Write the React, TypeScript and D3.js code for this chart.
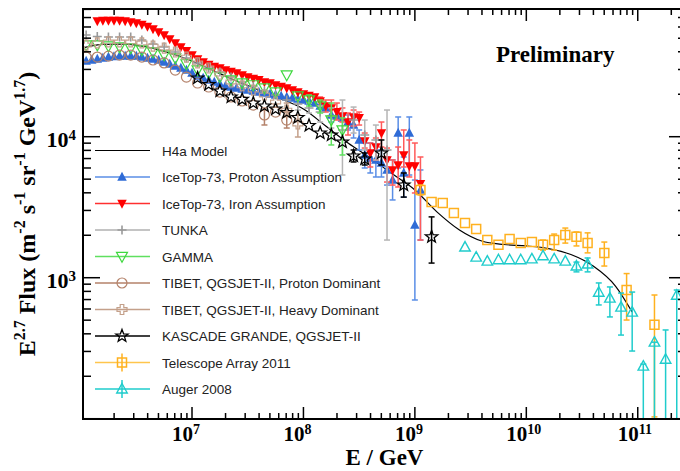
import React from "react";
import * as d3 from "d3";

// ---------------- data (log10(E/GeV), E^2.7 flux) ----------------
const h4aLgE = [6.02, 6.2, 6.4, 6.6, 6.8, 7.0, 7.2, 7.4, 7.6, 7.8, 8.0, 8.2, 8.4, 8.6, 8.8, 9.0, 9.2, 9.4, 9.6, 9.8, 10.0, 10.2, 10.4, 10.6, 10.8, 10.95];
const h4aFlux = [42550, 45100, 45420, 43240, 39260, 34440, 29240, 24830, 21420, 18500, 15710, 11910, 9020, 7060, 5430, 4190, 2920, 2180, 1820, 1720, 1680, 1610, 1460, 1210, 873, 571];

const protonLgE = [6.05, 6.1, 6.15, 6.2, 6.25, 6.3, 6.35, 6.4, 6.45, 6.5, 6.55, 6.6, 6.65, 6.7, 6.75, 6.8, 6.85, 6.9, 6.95, 7.0, 7.05, 7.1, 7.15, 7.2, 7.25, 7.3, 7.35, 7.4, 7.45, 7.5, 7.55, 7.6, 7.65, 7.7, 7.75, 7.8, 7.85, 7.9, 7.95, 8.0, 8.05, 8.1, 8.15, 8.2, 8.25, 8.3, 8.35, 8.4, 8.45, 8.5, 8.55, 8.6, 8.65, 8.7, 8.75, 8.8, 8.85, 8.9, 8.95, 9.0, 9.05];
const protonFlux = [34440, 35000, 35560, 36130, 36710, 37010, 37300, 37300, 37300, 37300, 36710, 36130, 35560, 35000, 33900, 32820, 31730, 30700, 29700, 28310, 26930, 26070, 25250, 24440, 23660, 22900, 22510, 22140, 21780, 21420, 21090, 20740, 20410, 20080, 19760, 19440, 19130, 18800, 18500, 18210, 17920, 17340, 16510, 15990, 14260, 14030, 13580, 12710, 12110, 9480, 7420, 7060, 6840, 6510, 5810, 4930, 10620, 5530, 10620, 2370, 4190];
const protonErrLgE = [8.25, 8.4, 8.45, 8.5, 8.55, 8.6, 8.65, 8.7, 8.75, 8.8, 8.85, 8.9, 8.95, 9.0, 9.05];
const protonErrHi = [15990, 14260, 14260, 11160, 9020, 9020, 8050, 8050, 7180, 6840, 13800, 7180, 13800, 4930, 5810];
const protonErrLo = [12710, 11160, 9790, 8050, 6000, 5530, 5180, 5180, 4540, 3560, 6000, 3730, 5350, 695, 1850];

const ironLgE = [6.15, 6.2, 6.25, 6.3, 6.35, 6.4, 6.45, 6.5, 6.55, 6.6, 6.65, 6.7, 6.75, 6.8, 6.85, 6.9, 6.95, 7.0, 7.05, 7.1, 7.15, 7.2, 7.25, 7.3, 7.35, 7.4, 7.45, 7.5, 7.55, 7.6, 7.65, 7.7, 7.75, 7.8, 7.85, 7.9, 7.95, 8.0, 8.05, 8.1, 8.15, 8.2, 8.25, 8.3, 8.35, 8.4, 8.45, 8.5, 8.55, 8.6, 8.65, 8.7, 8.75, 8.8, 8.85, 8.9, 8.95, 9.0, 9.05];
const ironFlux = [66200, 66600, 66700, 66700, 66600, 66200, 65000, 63900, 62500, 60500, 58100, 55300, 52600, 49300, 46200, 43300, 40600, 37900, 35600, 33900, 32500, 31500, 30700, 29700, 29000, 28300, 27400, 26500, 25900, 25300, 24400, 24000, 23300, 22700, 22100, 21400, 20700, 20100, 19600, 19100, 17900, 16500, 16000, 15000, 14000, 12700, 13800, 13600, 9330, 7660, 8450, 10600, 6840, 5810, 6300, 7420, 6200, 6200, 4630];
const ironErrLgE = [8.15, 8.2, 8.25, 8.3, 8.35, 8.4, 8.45, 8.5, 8.55, 8.6, 8.65, 8.7, 8.75, 8.8, 8.85, 8.9, 8.95, 9.0, 9.05];
const ironErrHi = [19130, 18210, 18210, 17330, 15990, 14720, 15460, 14960, 10620, 9020, 9790, 12710, 8310, 6840, 8450, 11160, 9480, 9020, 7180];
const ironErrLo = [16510, 14960, 14030, 13130, 12710, 10280, 11910, 12100, 8310, 6100, 6840, 8450, 4770, 4540, 4400, 6100, 5180, 3990, 1850];

const tunkaLgE = [6.05, 6.15, 6.25, 6.35, 6.45, 6.55, 6.65, 6.75, 6.85, 6.95, 7.05, 7.15, 7.25, 7.35, 7.45, 7.55, 7.65, 7.75, 7.85, 7.95, 8.05, 8.15, 8.25, 8.35, 8.45, 8.55, 8.65, 8.75];
const tunkaFlux = [52600, 51400, 50950, 50950, 50950, 48500, 45400, 43300, 39900, 36130, 33340, 30700, 28770, 26530, 24440, 22900, 21090, 19760, 18210, 17070, 15990, 14960, 14030, 11160, 13130, 10280, 9480, 8050];
const tunkaErrLgE = [7.95, 8.05, 8.15, 8.25, 8.35, 8.45, 8.55, 8.65, 8.75];
const tunkaErrHi = [18210, 17330, 16510, 15990, 18210, 16230, 13130, 12100, 15460];
const tunkaErrLo = [15460, 14720, 12710, 11520, 5350, 10620, 8050, 6840, 1850];

const gammaLgE = [6.05, 6.15, 6.25, 6.35, 6.45, 6.55, 6.65, 6.75, 6.85, 6.95, 7.05, 7.15, 7.25, 7.35, 7.45, 7.55, 7.65, 7.75, 7.85, 7.95, 8.05, 8.15, 8.25, 8.35];
const gammaFlux = [44670, 44670, 43940, 43240, 42550, 41210, 39890, 37960, 36130, 32820, 29700, 28310, 26530, 25250, 24030, 23290, 22140, 20740, 27400, 19440, 18210, 16510, 13130, 11160];
const gammaErrLgE = [8.05, 8.15, 8.25, 8.35];
const gammaErrHi = [19760, 18210, 17330, 13580];
const gammaErrLo = [16510, 14720, 8740, 7420];

const tibetPLgE = [6.05, 6.15, 6.25, 6.35, 6.45, 6.55, 6.65, 6.75, 6.85, 6.95, 7.05, 7.15, 7.25, 7.35, 7.45, 7.55, 7.65, 7.75, 7.85];
const tibetPFlux = [36710, 36710, 37300, 37920, 37920, 36710, 35000, 33340, 29700, 26490, 24030, 22510, 20740, 19130, 17920, 16770, 14260, 14960, 13130];
const tibetPErrLgE = [7.65, 7.85];
const tibetPErrHi = [15990, 14960];
const tibetPErrLo = [12110, 11520];

const tibetHLgE = [6.05, 6.15, 6.25, 6.35, 6.45, 6.55, 6.65, 6.75, 6.85, 6.95, 7.05, 7.15, 7.25, 7.35, 7.45, 7.55, 7.65, 7.75, 7.85, 7.95];
const tibetHFlux = [44670, 46240, 46990, 46990, 46990, 46240, 43940, 42550, 39890, 36710, 33340, 30700, 27840, 24440, 22900, 21420, 19760, 17620, 15460, 12310];
const tibetHErrLgE = [7.85, 7.95];
const tibetHErrHi = [17330, 14260];
const tibetHErrLo = [13860, 9950];

const kascadeLgE = [7.05, 7.15, 7.25, 7.35, 7.45, 7.55, 7.65, 7.75, 7.85, 7.95, 8.05, 8.15, 8.25, 8.35, 8.45, 8.55, 8.7, 8.9, 9.15];
const kascadeFlux = [26070, 23460, 21090, 19130, 18380, 17330, 16510, 15720, 14850, 13690, 12000, 10620, 10280, 9170, 7300, 6950, 7660, 4540, 1950];
const kascadeErrLgE = [8.45, 8.55, 8.7, 8.9, 9.15];
const kascadeErrHi = [8050, 7660, 9480, 5530, 2700];
const kascadeErrLo = [6620, 6300, 6300, 3730, 1270];

const taLgE = [9.05, 9.15, 9.25, 9.35, 9.45, 9.55, 9.65, 9.75, 9.85, 9.95, 10.05, 10.15, 10.25, 10.35, 10.45, 10.55, 10.7, 10.9, 11.15];
const taFlux = [4190, 3440, 3390, 2880, 2440, 2220, 1850, 1710, 1880, 1760, 1790, 1710, 1850, 2010, 1950, 1760, 1500, 818, 463];
const taErrLgE = [9.05, 10.15, 10.25, 10.35, 10.45, 10.55, 10.7, 10.9, 11.15];
const taErrHi = [4540, 1850, 2040, 2250, 2110, 2080, 1790, 1070, 754];
const taErrLo = [3860, 1570, 1570, 1760, 1680, 1500, 1210, 501, 103];

const augerLgE = [9.45, 9.55, 9.65, 9.75, 9.85, 9.95, 10.05, 10.15, 10.25, 10.35, 10.45, 10.55, 10.65, 10.75, 10.85, 10.95, 11.05, 11.15, 11.25, 11.35];
const augerFlux = [1650, 1400, 1310, 1340, 1340, 1340, 1360, 1430, 1360, 1310, 1210, 1250, 789, 716, 618, 570, 236, 349, 264, 751];
const augerErrLgE = [10.45, 10.55, 10.65, 10.75, 10.85, 10.95, 11.05, 11.15, 11.25, 11.35];
const augerErrHi = [1290, 1380, 918, 860, 778, 791, 244, 349, 426, 818];
const augerErrLo = [1100, 1100, 641, 527, 392, 302, 1, 1, 1, 1];

const legendLabels = [
  "H4a Model",
  "IceTop-73, Proton Assumption",
  "IceTop-73, Iron Assumption",
  "TUNKA",
  "GAMMA",
  "TIBET, QGSJET-II, Proton Dominant",
  "TIBET, QGSJET-II, Heavy Dominant",
  "KASCADE GRANDE, QGSJET-II",
  "Telescope Array 2011",
  "Auger 2008",
];
const xTickExps = [7, 8, 9, 10, 11];
const yTickExps = [3, 4];

// ---------------- geometry ----------------
const W = 680;
const H = 471;
const PL = 83, PR = 686, PT = 9, PB = 419;

const x = d3.scaleLog().domain([Math.pow(10, 6.0218), Math.pow(10, 11.433)]).range([PL, PR]);
const y = d3.scaleLog().domain([Math.pow(10, 1.998), Math.pow(10, 4.9057)]).range([PB, PT]);

const SERIF = "'Liberation Serif', 'Times New Roman', serif";
const SANS = "'Liberation Sans', Arial, Helvetica, sans-serif";

// ---------------- markers ----------------
const triUp = (w: number, h: number) => `M0,${-h * 0.58}L${w / 2},${h * 0.42}L${-w / 2},${h * 0.42}Z`;
const triDown = (w: number, h: number) => `M0,${h * 0.58}L${w / 2},${-h * 0.42}L${-w / 2},${-h * 0.42}Z`;
const plus = (s: number) => `M${-s / 2},0H${s / 2}M0,${-s / 2}V${s / 2}`;
const square = (s: number) => `M${-s / 2},${-s / 2}h${s}v${s}h${-s}Z`;
const crossOutline = (L: number, a: number) =>
  `M${-a},${-L}H${a}V${-a}H${L}V${a}H${a}V${L}H${-a}V${a}H${-L}V${-a}H${-a}Z`;
const star = (R: number, r: number) => {
  const pts: string[] = [];
  for (let i = 0; i < 10; i++) {
    const ang = -Math.PI / 2 + (i * Math.PI) / 5;
    const rad = i % 2 === 0 ? R : r;
    pts.push(`${(rad * Math.cos(ang)).toFixed(2)},${(rad * Math.sin(ang)).toFixed(2)}`);
  }
  return "M" + pts.join("L") + "Z";
};
const circle = (r: number) => `M${r},0A${r},${r} 0 1,1 ${-r},0A${r},${r} 0 1,1 ${r},0Z`;

type Series = {
  lgE: number[];
  flux: number[];
  eLgE: number[];
  eHi: number[];
  eLo: number[];
  path: string;
  fill: string;
  stroke: string;
  sw: number;
  err: string;
  legendLine: string;
  legendVBar?: boolean;
};

const series: Series[] = [
  { lgE: protonLgE, flux: protonFlux, eLgE: protonErrLgE, eHi: protonErrHi, eLo: protonErrLo, path: triUp(9.5, 9), fill: "#2f6bd6", stroke: "none", sw: 0, err: "#5a8ee6", legendLine: "#5a8ee6" },
  { lgE: ironLgE, flux: ironFlux, eLgE: ironErrLgE, eHi: ironErrHi, eLo: ironErrLo, path: triDown(9.5, 9), fill: "#ff0000", stroke: "none", sw: 0, err: "#ff5a5a", legendLine: "#ff3030" },
  { lgE: tunkaLgE, flux: tunkaFlux, eLgE: tunkaErrLgE, eHi: tunkaErrHi, eLo: tunkaErrLo, path: plus(9), fill: "none", stroke: "#999999", sw: 1.6, err: "#b5b5b5", legendLine: "#b0b0b0" },
  { lgE: gammaLgE, flux: gammaFlux, eLgE: gammaErrLgE, eHi: gammaErrHi, eLo: gammaErrLo, path: triDown(11, 10), fill: "none", stroke: "#3fd83f", sw: 1.2, err: "#5fe05f", legendLine: "#5fe05f" },
  { lgE: tibetPLgE, flux: tibetPFlux, eLgE: tibetPErrLgE, eHi: tibetPErrHi, eLo: tibetPErrLo, path: circle(5), fill: "none", stroke: "#b4826a", sw: 1.2, err: "#b4826a", legendLine: "#b4826a" },
  { lgE: tibetHLgE, flux: tibetHFlux, eLgE: tibetHErrLgE, eHi: tibetHErrHi, eLo: tibetHErrLo, path: crossOutline(5, 1.8), fill: "none", stroke: "#c4a08a", sw: 1.2, err: "#c4a08a", legendLine: "#c4a08a" },
  { lgE: kascadeLgE, flux: kascadeFlux, eLgE: kascadeErrLgE, eHi: kascadeErrHi, eLo: kascadeErrLo, path: star(6.5, 2.7), fill: "none", stroke: "#000000", sw: 1.3, err: "#000000", legendLine: "#000000" },
  { lgE: taLgE, flux: taFlux, eLgE: taErrLgE, eHi: taErrHi, eLo: taErrLo, path: square(9), fill: "none", stroke: "#ffb11f", sw: 1.5, err: "#ffb11f", legendLine: "#ffc54d", legendVBar: true },
  { lgE: augerLgE, flux: augerFlux, eLgE: augerErrLgE, eHi: augerErrHi, eLo: augerErrLo, path: triUp(10.5, 9.5), fill: "none", stroke: "#1fcccc", sw: 1.4, err: "#1fcccc", legendLine: "#1fcccc", legendVBar: true },
];

const h4aLine = d3
  .line<number>()
  .x((_, i) => x(Math.pow(10, h4aLgE[i])))
  .y((d) => y(d))
  .curve(d3.curveMonotoneX);

function SeriesMarks({ s }: { s: Series }) {
  return (
    <g>
      {s.eLgE.map((e, i) => {
        const cx = x(Math.pow(10, e));
        const y1 = y(s.eHi[i]);
        const y2 = y(s.eLo[i]);
        return (
          <g key={"e" + i} stroke={s.err} strokeWidth={1.5}>
            <line x1={cx} x2={cx} y1={y1} y2={y2} />
            <line x1={cx - 3} x2={cx + 3} y1={y1} y2={y1} />
            <line x1={cx - 3} x2={cx + 3} y1={y2} y2={y2} />
          </g>
        );
      })}
      {s.lgE.map((e, i) => (
        <path
          key={"m" + i}
          transform={`translate(${x(Math.pow(10, e)).toFixed(2)},${y(s.flux[i]).toFixed(2)})`}
          d={s.path}
          fill={s.fill}
          stroke={s.stroke}
          strokeWidth={s.sw}
        />
      ))}
    </g>
  );
}

export default function App() {
  const xTicks = x.ticks();
  const yTicks = y.ticks();
  const isMajor = (v: number) => Math.abs(Math.log10(v) - Math.round(Math.log10(v))) < 1e-6;
  const legendY = (i: number) => 150.5 + 26.5 * i;

  return (
    <svg
      width={W}
      height={H}
      viewBox={`0 0 ${W} ${H}`}
      style={{ position: "absolute", left: 0, top: 0, background: "#fff" }}
    >
      <rect x={0} y={0} width={W} height={H} fill="#fff" />
      <defs>
        <clipPath id="plotClip">
          <rect x={PL} y={PT} width={PR - PL} height={PB - PT} />
        </clipPath>
      </defs>

      <g clipPath="url(#plotClip)">
        <path d={h4aLine(h4aFlux) || ""} fill="none" stroke="#000" strokeWidth={1.2} />
        {series.map((s, i) => (
          <SeriesMarks key={i} s={s} />
        ))}
      </g>

      {/* ticks */}
      <g stroke="#000" strokeWidth={1.5}>
        {xTicks.map((t, i) => {
          const len = isMajor(t) ? 12 : 6;
          const xx = x(t);
          return (
            <g key={"xt" + i}>
              <line x1={xx} x2={xx} y1={PB} y2={PB - len} />
              <line x1={xx} x2={xx} y1={PT} y2={PT + len} />
            </g>
          );
        })}
        {yTicks.map((t, i) => {
          const len = isMajor(t) ? 17 : 8;
          const yy = y(t);
          return (
            <g key={"yt" + i}>
              <line x1={PL} x2={PL + len} y1={yy} y2={yy} />
              <line x1={PR} x2={PR - len} y1={yy} y2={yy} />
            </g>
          );
        })}
      </g>

      {/* frame */}
      <rect x={PL} y={PT} width={PR - PL} height={PB - PT} fill="none" stroke="#000" strokeWidth={2} />

      {/* tick labels */}
      <g fontFamily={SERIF} fontWeight="bold" fill="#000">
        {xTickExps.map((p) => {
          const xx = x(Math.pow(10, p));
          return (
            <g key={"xl" + p}>
              <text x={xx + 1} y={441} fontSize={21} textAnchor="end">10</text>
              <text x={xx + 1} y={434} fontSize={14} textAnchor="start">{p}</text>
            </g>
          );
        })}
        {yTickExps.map((p) => {
          const yy = y(Math.pow(10, p));
          return (
            <text key={"yl" + p} x={76} y={yy + 10} fontSize={22} textAnchor="end">
              10
              <tspan fontSize={15} dy={-7}>{p}</tspan>
            </text>
          );
        })}
      </g>

      {/* axis titles */}
      <text x={(PL + PR) / 2} y={465} fontFamily={SERIF} fontWeight="bold" fontSize={23} textAnchor="middle">
        E / GeV
      </text>
      <text
        transform={`translate(35,${(PT + PB) / 2}) rotate(-90)`}
        fontFamily={SERIF}
        fontWeight="bold"
        fontSize={24}
        textAnchor="middle"
      >
        E<tspan fontSize={16} dy={-10}>2.7</tspan>
        <tspan dy={10}> Flux (m</tspan>
        <tspan fontSize={16} dy={-10}>-2</tspan>
        <tspan dy={10}> s</tspan>
        <tspan fontSize={16} dy={-10}>-1</tspan>
        <tspan dy={10}> sr</tspan>
        <tspan fontSize={16} dy={-10}>-1</tspan>
        <tspan dy={10}> GeV</tspan>
        <tspan fontSize={16} dy={-10}>1.7</tspan>
        <tspan dy={10}>)</tspan>
      </text>

      <text x={496} y={62} fontFamily={SERIF} fontWeight="bold" fontSize={23}>
        Preliminary
      </text>

      {/* legend */}
      <g>
        {legendLabels.map((label, i) => {
          const ly = legendY(i);
          const s = i === 0 ? null : series[i - 1];
          return (
            <g key={"lg" + i}>
              <line x1={95} x2={150} y1={ly} y2={ly} stroke={s ? s.legendLine : "#000"} strokeWidth={s ? 1.6 : 1.2} />
              {s && s.legendVBar && (
                <line x1={122} x2={122} y1={ly - 9} y2={ly + 9} stroke={s.err} strokeWidth={1.5} />
              )}
              {s && (
                <path
                  transform={`translate(122,${ly})`}
                  d={s.path}
                  fill={s.fill === "none" ? "none" : s.fill}
                  stroke={s.stroke}
                  strokeWidth={s.sw}
                />
              )}
              <text x={162} y={ly + 5} fontFamily={SANS} fontSize={13.5} fill="#222">
                {label}
              </text>
            </g>
          );
        })}
      </g>
    </svg>
  );
}
